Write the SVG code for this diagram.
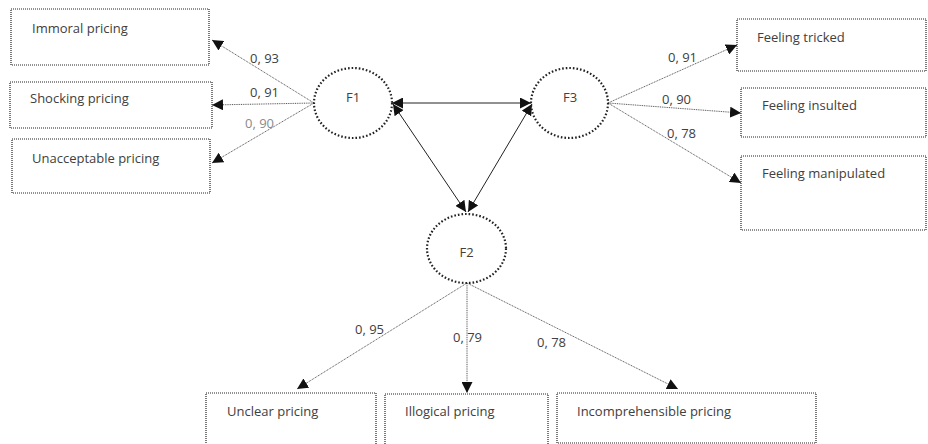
<svg xmlns="http://www.w3.org/2000/svg" width="928" height="444" viewBox="0 0 928 444">
<defs>
<style>
.box{fill:none;stroke:#222;stroke-width:1.2;stroke-dasharray:1 1}
.lat{fill:none;stroke:#222;stroke-width:2.2;stroke-dasharray:1.6 2}
.t{font-family:"Open Sans","Liberation Sans",sans-serif;font-size:13px;fill:#404040}
.lbl{font-family:"Open Sans","Liberation Sans",sans-serif;font-size:13px;fill:#404040}
.load{fill:none;stroke:#555;stroke-width:1;stroke-dasharray:1 0.8;marker-end:url(#ah)}
.cov{fill:none;stroke:#222;stroke-width:1;marker-end:url(#ah);marker-start:url(#ah)}
</style>
<marker id="ah" viewBox="0 0 10 10" refX="10" refY="5" markerWidth="11" markerHeight="11" markerUnits="userSpaceOnUse" orient="auto-start-reverse">
<path d="M0,0 L10,5 L0,10 z" fill="#111"/>
</marker>
</defs>
<rect width="928" height="444" fill="#fff"/>
<g id="connectors">
<line class="load" x1="314" y1="103" x2="212" y2="40"/>
<line class="load" x1="314" y1="103" x2="212" y2="105"/>
<line class="load" x1="314" y1="103" x2="212" y2="163"/>
<line class="load" x1="608" y1="103" x2="737" y2="45"/>
<line class="load" x1="608" y1="103" x2="741" y2="113"/>
<line class="load" x1="608" y1="103" x2="741" y2="183"/>
<line class="load" x1="467" y1="283" x2="297" y2="389"/>
<line class="load" x1="467" y1="283" x2="467" y2="393"/>
<line class="load" x1="467" y1="283" x2="678" y2="389"/>
<line class="cov" x1="392" y1="103" x2="531" y2="103"/>
<line class="cov" x1="393" y1="104" x2="466" y2="212"/>
<line class="cov" x1="532" y1="104" x2="468" y2="212"/>
<text class="lbl" x="250" y="63">0, 93</text>
<text class="lbl" x="250" y="97">0, 91</text>
<text class="lbl" x="245" y="128" style="fill:#8a8a8a">0, 90</text>
<text class="lbl" x="668" y="62">0, 91</text>
<text class="lbl" x="662" y="104">0, 90</text>
<text class="lbl" x="667" y="138">0, 78</text>
<text class="lbl" x="355" y="334">0, 95</text>
<text class="lbl" x="453" y="342">0, 79</text>
<text class="lbl" x="537" y="347">0, 78</text>
</g>
<g id="F1"><ellipse class="lat" cx="353" cy="103" rx="39" ry="35"/><text class="t" x="353" y="102" text-anchor="middle">F1</text></g>
<g id="F3"><ellipse class="lat" cx="569.5" cy="103" rx="38.5" ry="35"/><text class="t" x="570" y="102" text-anchor="middle">F3</text></g>
<g id="F2"><ellipse class="lat" cx="466.5" cy="248.5" rx="39.5" ry="34.5"/><text class="t" x="466.5" y="257" text-anchor="middle">F2</text></g>
<g id="immoral"><rect class="box" x="11" y="9" width="198" height="56"/><text class="t" x="32" y="33">Immoral pricing</text></g>
<g id="shocking"><rect class="box" x="10" y="82" width="202" height="46"/><text class="t" x="30" y="103">Shocking pricing</text></g>
<g id="unacceptable"><rect class="box" x="12" y="139" width="198" height="54"/><text class="t" x="32" y="163">Unacceptable pricing</text></g>
<g id="tricked"><rect class="box" x="737" y="19" width="189" height="52"/><text class="t" x="757" y="42">Feeling tricked</text></g>
<g id="insulted"><rect class="box" x="741" y="88" width="185" height="49"/><text class="t" x="762" y="110">Feeling insulted</text></g>
<g id="manipulated"><rect class="box" x="741" y="156" width="185" height="74"/><text class="t" x="762" y="178">Feeling manipulated</text></g>
<g id="unclear"><rect class="box" x="206" y="393" width="170" height="60"/><text class="t" x="227" y="416">Unclear pricing</text></g>
<g id="illogical"><rect class="box" x="385" y="394" width="163" height="60"/><text class="t" x="405" y="416">Illogical pricing</text></g>
<g id="incomprehensible"><rect class="box" x="557" y="393" width="259" height="50"/><text class="t" x="577" y="416">Incomprehensible pricing</text></g>
</svg>
